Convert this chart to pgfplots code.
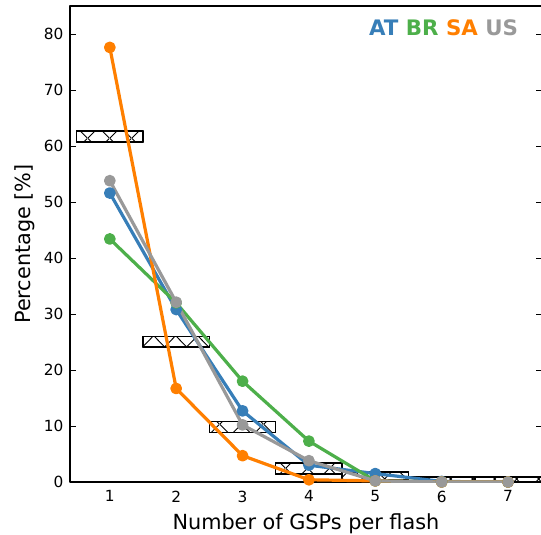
\documentclass[border=0pt]{standalone}
\usepackage{fontspec}
\setmainfont{DejaVu Sans}
\usepackage{pgfplots}
\pgfplotsset{compat=1.18}
\usetikzlibrary{patterns,calc}
\definecolor{cAT}{RGB}{55,126,184}
\definecolor{cBR}{RGB}{77,175,74}
\definecolor{cSA}{RGB}{255,127,0}
\definecolor{cUS}{RGB}{153,153,153}
\pgfdeclarepatternformonly{bigx}{\pgfpointorigin}{\pgfqpoint{16.5pt}{16.5pt}}{\pgfqpoint{16.5pt}{16.5pt}}{%
  \pgfsetlinewidth{0.7pt}%
  \pgfpathmoveto{\pgfqpoint{0pt}{0pt}}\pgfpathlineto{\pgfqpoint{16.5pt}{16.5pt}}%
  \pgfpathmoveto{\pgfqpoint{0pt}{16.5pt}}\pgfpathlineto{\pgfqpoint{16.5pt}{0pt}}%
  \pgfusepath{stroke}}
\begin{document}
\begin{tikzpicture}
\begin{axis}[
  name=ax,
  scale only axis,
  width=353.9pt, height=357pt,
  xmin=0.4, xmax=7.51, ymin=0, ymax=85,
  xtick={1,2,3,4,5,6,7},
  ytick={0,10,20,30,40,50,60,70,80},
  xtick style={draw=none},
  ytick pos=both,
  tick align=inside,
  major tick length=4.5pt,
  ytick style={line width=0.7pt, black},
  axis line style={line width=0.8pt},
  /pgf/number format/assume math mode=true,
  ticklabel style={font=\fontsize{11.5}{13}\selectfont},
  xticklabel style={yshift=-3pt},
  yticklabel style={xshift=-1.5pt},
  xlabel={Number of GSPs per flash},
  ylabel={Percentage [\%]},
  label style={font=\fontsize{15.6}{18}\selectfont},
  xlabel style={at={(axis description cs:0.5,-0.1008)}, anchor=base},
  ylabel style={at={(axis description cs:-0.0955,0.5)}, anchor=center},
  clip=true,
  line join=round,
]
% hatched boxes
\addplot[draw=black, line width=1pt, fill=white, postaction={pattern=bigx}] coordinates {(0.5,60.7) (1.5,60.7) (1.5,62.7) (0.5,62.7)} -- cycle;
\addplot[draw=black, line width=1pt, fill=white, postaction={pattern=bigx}] coordinates {(1.5,24.1) (2.5,24.1) (2.5,26.0) (1.5,26.0)} -- cycle;
\addplot[draw=black, line width=1pt, fill=white, postaction={pattern=bigx}] coordinates {(2.5,8.8) (3.5,8.8) (3.5,10.8) (2.5,10.8)} -- cycle;
\addplot[draw=black, line width=1pt, fill=white, postaction={pattern=bigx}] coordinates {(3.5,1.4) (4.5,1.4) (4.5,3.4) (3.5,3.4)} -- cycle;
\addplot[draw=black, line width=1pt, fill=white, postaction={pattern=bigx}] coordinates {(4.5,0.5) (5.5,0.5) (5.5,1.8) (4.5,1.8)} -- cycle;
\addplot[draw=black, line width=1pt, fill=white, postaction={pattern=bigx}] coordinates {(5.5,0.0) (6.5,0.0) (6.5,0.9) (5.5,0.9)} -- cycle;
\addplot[draw=black, line width=1pt, fill=white, postaction={pattern=bigx}] coordinates {(6.5,0.0) (7.5,0.0) (7.5,0.9) (6.5,0.9)} -- cycle;
% series
\addplot[cAT, line width=2.4pt, mark=*, mark size=3.2pt] coordinates {(1,51.6) (2,30.8) (3,12.7) (4,3.0) (5,1.5) (6,0.1) (7,0)};
\addplot[cBR, line width=2.4pt, mark=*, mark size=3.2pt] coordinates {(1,43.4) (2,32.0) (3,18.0) (4,7.3) (5,0.2) (6,0) (7,0)};
\addplot[cSA, line width=2.4pt, mark=*, mark size=3.2pt] coordinates {(1,77.6) (2,16.7) (3,4.7) (4,0.4) (5,0.2) (6,0) (7,0)};
\addplot[cUS, line width=2.4pt, mark=*, mark size=3.2pt] coordinates {(1,53.8) (2,32.1) (3,10.2) (4,3.8) (5,0.2) (6,0) (7,0)};
\node[anchor=base east, inner sep=0pt, font=\fontsize{16}{19}\selectfont\bfseries] at (rel axis cs:0.950,0.937)
  {\textcolor{cAT}{AT} \textcolor{cBR}{BR} \textcolor{cSA}{SA} \textcolor{cUS}{US}};
\end{axis}
\pgfresetboundingbox
\useasboundingbox ($(ax.south west)+(-52.5pt,-39pt)$) rectangle ($(ax.north east)+(-0.65pt,4.5pt)$);
\end{tikzpicture}
\end{document}
